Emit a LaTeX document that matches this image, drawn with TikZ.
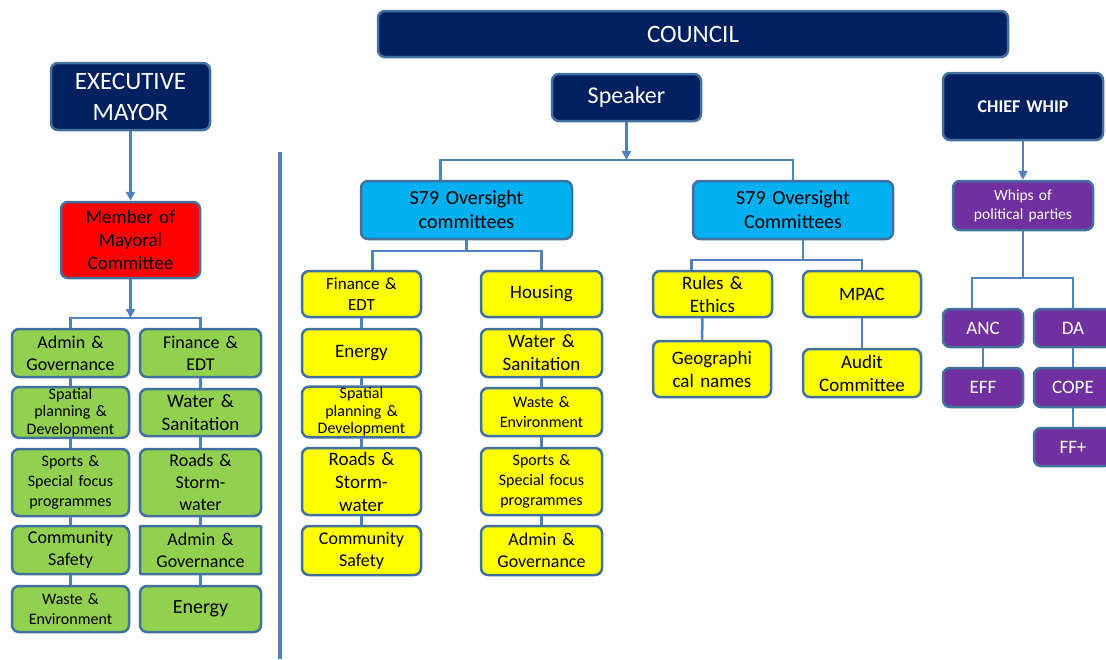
\documentclass[tikz,border=0pt]{standalone}
\usepackage{fontspec}
\setmainfont{Carlito}
\usetikzlibrary{arrows.meta}
\definecolor{navy}{HTML}{002060}
\definecolor{edge}{HTML}{41719C}
\definecolor{wire}{HTML}{4F81BD}
\definecolor{leaf}{HTML}{92D050}
\definecolor{lemon}{HTML}{FFFF00}
\definecolor{sky}{HTML}{00B0F0}
\definecolor{purp}{HTML}{7030A0}
\definecolor{alarm}{HTML}{FF0000}

\begin{document}
\begin{tikzpicture}[x=1pt,y=-1pt]
\tikzstyle{box}=[draw=edge, line width=2.5pt, rounded corners=7pt, align=center, inner sep=1pt, font=\fontsize{18}{22}\selectfont]
\tikzstyle{dark}=[box, fill=navy, text=white]
\tikzstyle{grn}=[box, fill=leaf]
\tikzstyle{yel}=[box, fill=lemon]
\tikzstyle{blu}=[box, fill=sky, font=\fontsize{20}{24}\selectfont]
\tikzstyle{pur}=[box, fill=purp, text=white, font=\fontsize{19}{23}\selectfont]
\tikzstyle{tight}=[font=\fontsize{16}{17.5}\selectfont]
\tikzstyle{mid}=[font=\fontsize{16}{20}\selectfont]
\tikzstyle{big}=[font=\fontsize{19}{23}\selectfont]
\tikzstyle{link}=[draw=wire, line width=2.5pt]
\tikzstyle{arr}=[link, -{Triangle[length=9pt,width=9pt]}]
\useasboundingbox (0,0) rectangle (1106,659);
\clip (0,0) rectangle (1106,659);

\node[dark, text width=628pt, minimum height=46pt, font=\fontsize{25}{30}\selectfont] (council) at (693,34) {COUNCIL};
\node[dark, text width=147pt, minimum height=47pt, font=\fontsize{24}{29}\selectfont] (speaker) at (626.5,97.5) {Speaker};
\node[dark, text width=158pt, minimum height=67pt, font=\fontsize{18}{22}\bfseries] (chief) at (1023,106.5) {CHIEF WHIP};
\node[dark, text width=157pt, minimum height=67pt, font=\fontsize{25}{31}\selectfont] (exec) at (130.5,96.5) {EXECUTIVE\\MAYOR};
\node[box, fill=alarm, text width=137pt, minimum height=76pt, font=\fontsize{19}{23}\selectfont] (mmc) at (130.5,240) {Member of\\Mayoral\\Committee};

\node[grn, text width=115pt, minimum height=48pt] (g1a) at (70.5,353) {Admin \&\\Governance};
\node[grn, tight, text width=115pt, minimum height=47pt] (g1b) at (70.5,412.5) {Spatial\\planning \&\\Development};
\node[grn, mid, text width=115pt, minimum height=67pt] (g1c) at (70.5,482.5) {Sports \&\\Special focus\\programmes};
\node[grn, text width=115pt, minimum height=48pt] (g1d) at (70.5,550) {Community\\Safety};
\node[grn, mid, text width=115pt, minimum height=46pt] (g1e) at (70.5,609) {Waste \&\\Environment};
\node[grn, text width=119pt, minimum height=48pt] (g2a) at (200.5,353) {Finance \&\\EDT};
\node[grn, big, text width=119pt, minimum height=47pt] (g2b) at (200.5,412.5) {Water \&\\Sanitation};
\node[grn, text width=119pt, minimum height=67pt] (g2c) at (200.5,482.5) {Roads \&\\Storm-\\water};
\node[grn, rounded corners=1pt, text width=119pt, minimum height=48pt] (g2d) at (200.5,550) {Admin \&\\Governance};
\node[grn, font=\fontsize{20}{24}\selectfont, text width=119pt, minimum height=46pt] (g2e) at (200.5,609) {Energy};

\draw[wire, line width=4pt] (280,152) -- (280,659);

\node[blu, text width=209pt, minimum height=58pt] (s79a) at (466.5,210) {S79 Oversight\\committees};
\node[blu, text width=198pt, minimum height=58pt] (s79b) at (793,210) {S79 Oversight\\Committees};

\node[yel, font=\fontsize{17}{21}\selectfont, text width=117pt, minimum height=46pt] (y1a) at (361.5,294) {Finance \&\\EDT};
\node[yel, big, text width=117pt, minimum height=48pt] (y1b) at (361.5,353) {Energy};
\node[yel, tight, text width=117pt, minimum height=48pt] (y1c) at (361.5,412) {Spatial\\planning \&\\Development};
\node[yel, big, text width=117pt, minimum height=67pt] (y1d) at (361.5,481.5) {Roads \&\\Storm-\\water};
\node[yel, text width=117pt, minimum height=49pt] (y1e) at (361.5,550.5) {Community\\Safety};
\node[yel, big, text width=119pt, minimum height=46pt] (y2a) at (541.5,294) {Housing};
\node[yel, big, text width=119pt, minimum height=48pt] (y2b) at (541.5,353) {Water \&\\Sanitation};
\node[yel, mid, text width=119pt, minimum height=48pt] (y2c) at (541.5,412) {Waste \&\\Environment};
\node[yel, mid, text width=119pt, minimum height=67pt] (y2d) at (541.5,481.5) {Sports \&\\Special focus\\programmes};
\node[yel, text width=119pt, minimum height=49pt] (y2e) at (541.5,550.5) {Admin \&\\Governance};

\node[yel, big, text width=117pt, minimum height=46pt] (rules) at (712.5,294) {Rules \&\\Ethics};
\node[yel, big, text width=116pt, minimum height=46pt] (mpac) at (862,294) {MPAC};
\node[yel, big, text width=116pt, minimum height=56pt] (geo) at (712,369) {Geographi\\cal names};
\node[yel, big, text width=116pt, minimum height=48pt] (audit) at (862,373) {Audit\\Committee};

\node[pur, font=\fontsize{15.5}{19}\selectfont, text width=138pt, minimum height=49pt] (whips) at (1023,205.5) {Whips of\\political parties};
\node[pur, text width=78pt, minimum height=38pt] (anc) at (983,328) {ANC};
\node[pur, text width=76pt, minimum height=38pt] (da) at (1073,328) {DA};
\node[pur, text width=78pt, minimum height=39pt] (eff) at (983,387.5) {EFF};
\node[pur, text width=76pt, minimum height=39pt] (cope) at (1073,387.5) {COPE};
\node[pur, text width=76pt, minimum height=38pt] (ffplus) at (1073,447) {FF+};

\coordinate (mmcfork) at (130.5,318);
\coordinate (spkfork) at (626.5,160);
\coordinate (lfork) at (466.5,251);
\coordinate (rfork) at (803,260);
\coordinate (wfork) at (1023,278);

\draw[arr] (exec) -- (mmc);
\draw[link] (g1a.north) |- (mmcfork) -| (g2a.north);
\draw[arr] (mmc) -- (mmcfork);
\draw[link] (g1a) -- (g1b) (g1b) -- (g1c) (g1c) -- (g1d) (g1d) -- (g1e);
\draw[link] (g2a) -- (g2b) (g2b) -- (g2c) (g2c) -- (g2d) (g2d) -- (g2e);

\draw[link] ([xshift=-26pt]s79a.north) |- (spkfork) -| (s79b.north);
\draw[arr] (speaker) -- (spkfork);
\draw[link] (s79a) -- (lfork);
\draw[link] ([xshift=11pt]y1a.north) |- (lfork) -| (y2a.north);
\draw[link] (y1a) -- (y1b) (y1b) -- (y1c) (y1c) -- (y1d) (y1d) -- (y1e);
\draw[link] (y2a) -- (y2b) (y2b) -- (y2c) (y2c) -- (y2d) (y2d) -- (y2e);

\draw[link] ([xshift=10pt]s79b.south) -- (rfork);
\draw[link] ([xshift=-21pt]rules.north) |- (rfork) -| (mpac.north);
\draw[link] ([xshift=-10pt]rules.south) -- ([xshift=-10pt]geo.north);
\draw[link] (mpac) -- (audit);

\draw[arr] (chief) -- (whips);
\draw[link] (whips) -- (wfork);
\draw[link] ([xshift=-11pt]anc.north) |- (wfork) -| (da.north);
\draw[link] (anc) -- (eff) (da) -- (cope) (cope) -- (ffplus);
\end{tikzpicture}
\end{document}
